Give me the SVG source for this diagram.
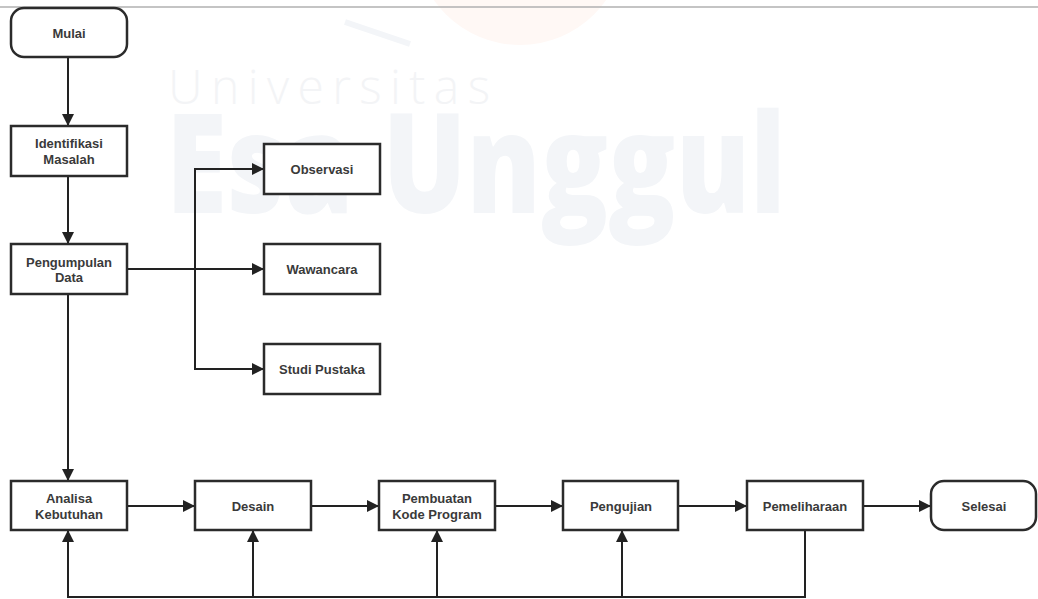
<svg xmlns="http://www.w3.org/2000/svg" width="1038" height="599" viewBox="0 0 1038 599">
<style>
.box{fill:#fff;stroke:#2b2b2b;stroke-width:2.5}
.lbl{font-family:"Liberation Sans",Arial,sans-serif;font-weight:bold;font-size:13px;fill:#3a3a3a;text-anchor:middle}
.con{fill:none;stroke:#222;stroke-width:2}
.wm1{font-family:"Open Sans","Liberation Sans",sans-serif;font-weight:300;font-size:48px;fill:#f3f4f6}
.wm2{font-family:"Open Sans","Liberation Sans",sans-serif;font-weight:800;font-size:138px;fill:#f3f5f8}
</style>
<defs>
<marker id="arr" markerUnits="userSpaceOnUse" markerWidth="12" markerHeight="12" refX="12" refY="6" orient="auto">
<path d="M0,0 L12,6 L0,12 Z" fill="#222"/>
</marker>
</defs>
<rect width="1038" height="599" fill="#fff"/>
<g id="watermark">
<circle cx="520" cy="-60" r="105" fill="#fff8f5"/>
<path d="M345,22 L410,44" stroke="#f3f5f8" stroke-width="6" fill="none"/>
<text class="wm1" x="168" y="104" textLength="322" lengthAdjust="spacing">Universitas</text>
<text class="wm2" x="166" y="213" textLength="620" lengthAdjust="spacingAndGlyphs">Esa Unggul</text>
</g>
<line x1="0" y1="7" x2="1038" y2="7" stroke="#b0b0b0" stroke-width="1.5"/>
<g id="connectors">
<path class="con" d="M68,57 V126" marker-end="url(#arr)"/>
<path class="con" d="M68,176 V244" marker-end="url(#arr)"/>
<path class="con" d="M127,269 H264" marker-end="url(#arr)"/>
<path class="con" d="M195,269 V169 H264" marker-end="url(#arr)"/>
<path class="con" d="M195,269 V369 H264" marker-end="url(#arr)"/>
<path class="con" d="M68,294 V481" marker-end="url(#arr)"/>
<path class="con" d="M127,506 H195" marker-end="url(#arr)"/>
<path class="con" d="M311,506 H379" marker-end="url(#arr)"/>
<path class="con" d="M495,506 H563" marker-end="url(#arr)"/>
<path class="con" d="M678,506 H747" marker-end="url(#arr)"/>
<path class="con" d="M863,506 H931" marker-end="url(#arr)"/>
<path class="con" d="M805,530 V597 H68 V530" marker-end="url(#arr)"/>
<path class="con" d="M253,597 V530" marker-end="url(#arr)"/>
<path class="con" d="M437,597 V530" marker-end="url(#arr)"/>
<path class="con" d="M622,597 V530" marker-end="url(#arr)"/>
</g>
<g id="mulai"><rect class="box" x="11" y="8" width="116" height="49" rx="13"/><text class="lbl" x="69" y="37.5">Mulai</text></g>
<g id="identifikasi"><rect class="box" x="11" y="126" width="116" height="50"/><text class="lbl" x="69" y="148">Identifikasi</text><text class="lbl" x="69" y="164">Masalah</text></g>
<g id="pengumpulan"><rect class="box" x="11" y="244" width="116" height="50"/><text class="lbl" x="69" y="266.5">Pengumpulan</text><text class="lbl" x="69" y="282">Data</text></g>
<g id="observasi"><rect class="box" x="264" y="144" width="116" height="50"/><text class="lbl" x="322" y="173.5">Observasi</text></g>
<g id="wawancara"><rect class="box" x="264" y="244" width="116" height="50"/><text class="lbl" x="322" y="273.5">Wawancara</text></g>
<g id="studi"><rect class="box" x="264" y="344" width="116" height="50"/><text class="lbl" x="322" y="373.5">Studi Pustaka</text></g>
<g id="analisa"><rect class="box" x="11" y="481" width="116" height="49"/><text class="lbl" x="69" y="503">Analisa</text><text class="lbl" x="69" y="519">Kebutuhan</text></g>
<g id="desain"><rect class="box" x="195" y="481" width="116" height="49"/><text class="lbl" x="253" y="510.5">Desain</text></g>
<g id="pembuatan"><rect class="box" x="379" y="481" width="116" height="49"/><text class="lbl" x="437" y="503">Pembuatan</text><text class="lbl" x="437" y="519">Kode Program</text></g>
<g id="pengujian"><rect class="box" x="563" y="481" width="115" height="49"/><text class="lbl" x="621" y="510.5">Pengujian</text></g>
<g id="pemeliharaan"><rect class="box" x="747" y="481" width="116" height="49"/><text class="lbl" x="805" y="510.5">Pemeliharaan</text></g>
<g id="selesai"><rect class="box" x="931" y="481" width="105" height="49" rx="13"/><text class="lbl" x="984" y="510.5">Selesai</text></g>
</svg>
